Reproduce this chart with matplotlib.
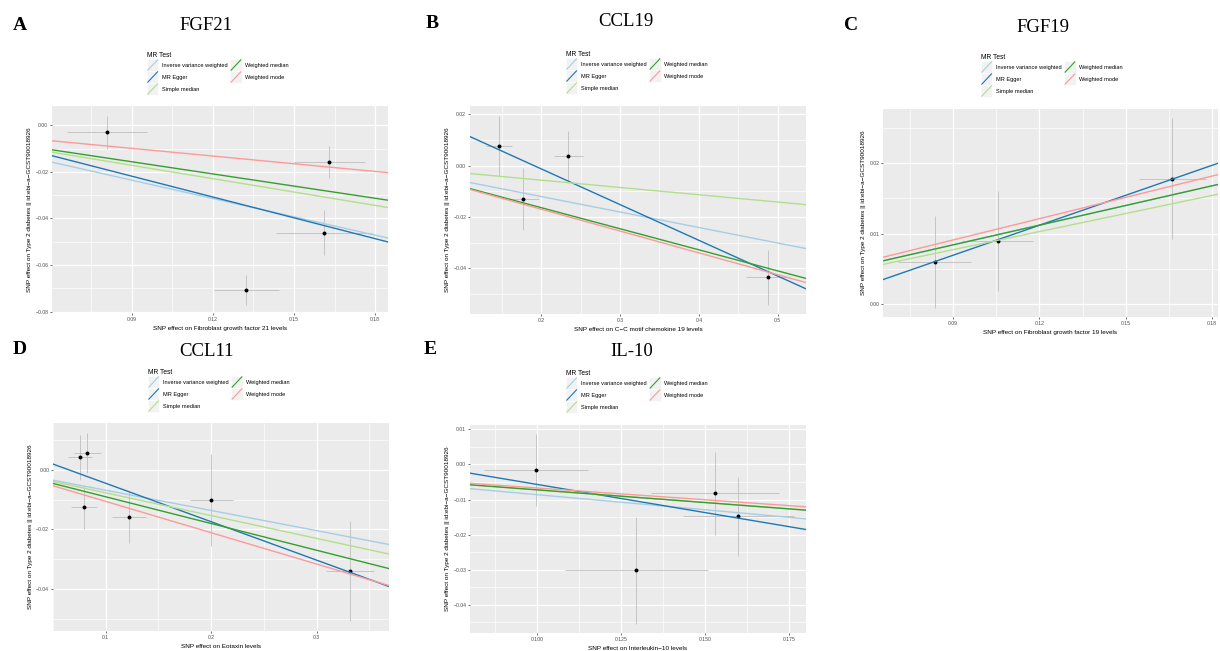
import matplotlib
matplotlib.use("Agg")
import matplotlib.pyplot as plt
from matplotlib.legend_handler import HandlerBase
from matplotlib.patches import Rectangle
from matplotlib.lines import Line2D
from matplotlib.ticker import FixedLocator, MultipleLocator

plt.rcParams['font.family'] = ['Liberation Sans', 'DejaVu Sans']

W, H = 1220, 651

methods = ["Inverse variance weighted", "MR Egger", "Simple median",
           "Weighted median", "Weighted mode"]
method_colors = ["#a6cee3", "#1f78b4", "#b2df8a", "#33a02c", "#fb9a99"]

ylabel = "SNP effect on Type 2 diabetes || id:ebi\u2212a\u2212GCST90018926"

# ---------- Panel A: FGF21 ----------
A_bx = [0.0809, 0.1631, 0.1611, 0.1323]
A_by = [-0.0029, -0.0159, -0.0461, -0.0707]
A_sex = [0.0148, 0.0132, 0.0178, 0.0120]
A_sey = [0.0071, 0.0069, 0.0097, 0.0064]
A_slope = [-0.262, -0.2978, -0.191, -0.174, -0.110]
A_icept = [0.0, 0.00494, 0.0, 0.0, 0.0]
A_xticks = [0.09, 0.12, 0.15, 0.18]
A_xticklabels = ["0.09", "0.12", "0.15", "0.18"]
A_yticks = [0.0, -0.02, -0.04, -0.06, -0.08]
A_yticklabels = ["0.00", "\u22120.02", "\u22120.04", "\u22120.06", "\u22120.08"]

# ---------- Panel B: CCL19 ----------
B_bx = [0.1463, 0.1772, 0.2343, 0.488]
B_by = [0.0078, -0.0130, 0.0037, -0.0435]
B_sex = [0.017, 0.020, 0.0184, 0.028]
B_sey = [0.0117, 0.012, 0.0099, 0.0107]
B_slope = [-0.0603, -0.139, -0.0284, -0.082, -0.085]
B_icept = [0.0, 0.0265, 0.0, 0.0, 0.0]
B_xticks = [0.2, 0.3, 0.4, 0.5]
B_xticklabels = ["0.2", "0.3", "0.4", "0.5"]
B_yticks = [0.02, 0.0, -0.02, -0.04]
B_yticklabels = ["0.02", "0.00", "\u22120.02", "\u22120.04"]

# ---------- Panel C: FGF19 ----------
C_bx = [0.0836, 0.1055, 0.1662]
C_by = [0.00598, 0.0090, 0.0178]
C_sex = [0.0128, 0.0124, 0.0117]
C_sey = [0.0065, 0.0071, 0.0086]
C_slope = [0.0933, 0.1421, 0.0857, 0.0933, 0.101]
C_icept = [0.0, -0.00587, 0.0, 0.0, 0.0]
C_xticks = [0.09, 0.12, 0.15, 0.18]
C_xticklabels = ["0.09", "0.12", "0.15", "0.18"]
C_yticks = [0.0, 0.01, 0.02]
C_yticklabels = ["0.00", "0.01", "0.02"]

# ---------- Panel D: CCL11 ----------
D_bx = [0.0756, 0.0827, 0.0793, 0.1222, 0.2000, 0.3314]
D_by = [0.00427, 0.00585, -0.0126, -0.01574, -0.0101, -0.0341]
D_sex = [0.0116, 0.013, 0.0124, 0.0158, 0.0204, 0.0228]
D_sey = [0.0076, 0.0068, 0.0072, 0.0087, 0.0155, 0.0169]
D_slope = [-0.068, -0.1294, -0.0767, -0.090, -0.1055]
D_icept = [0.0, 0.00849, 0.0, 0.0, 0.0]
D_xticks = [0.1, 0.2, 0.3]
D_xticklabels = ["0.1", "0.2", "0.3"]
D_yticks = [0.0, -0.02, -0.04]
D_yticklabels = ["0.00", "\u22120.02", "\u22120.04"]

# ---------- Panel E: IL-10 ----------
E_bx = [0.0997, 0.1295, 0.153, 0.1599]
E_by = [-0.00161, -0.0301, -0.00817, -0.0148]
E_sex = [0.0154, 0.0213, 0.0191, 0.0165]
E_sey = [0.0103, 0.0152, 0.0118, 0.0112]
E_slope = [-0.086, -0.1605, -0.072, -0.0723, -0.067]
E_icept = [0.0, 0.01037, 0.0, 0.0, 0.0]
E_xticks = [0.100, 0.125, 0.150, 0.175]
E_xticklabels = ["0.100", "0.125", "0.150", "0.175"]
E_yticks = [0.01, 0.0, -0.01, -0.02, -0.03, -0.04]
E_yticklabels = ["0.01", "0.00", "\u22120.01", "\u22120.02", "\u22120.03", "\u22120.04"]

panels = [
    dict(letter="A", title="FGF21", bx=A_bx, by=A_by, sex=A_sex, sey=A_sey,
         slope=A_slope, icept=A_icept, xt=A_xticks, xtl=A_xticklabels,
         yt=A_yticks, ytl=A_yticklabels,
         xlabel="SNP effect on Fibroblast growth factor 21 levels",
         box=(52, 106, 388, 313), xlim=(0.0604, 0.1848), ylim=(-0.0806, 0.0083),
         xminor=0.015, yminor=0.01,
         letter_pos=(20, 25), title_pos=(206, 25), leg_pos=(147, 52)),
    dict(letter="B", title="CCL19", bx=B_bx, by=B_by, sex=B_sex, sey=B_sey,
         slope=B_slope, icept=B_icept, xt=B_xticks, xtl=B_xticklabels,
         yt=B_yticks, ytl=B_yticklabels,
         xlabel="SNP effect on C\u2212C motif chemokine 19 levels",
         box=(470, 106, 806, 314), xlim=(0.1095, 0.536), ylim=(-0.0578, 0.0232),
         xminor=0.05, yminor=0.01,
         letter_pos=(432, 23), title_pos=(626, 22), leg_pos=(566, 51)),
    dict(letter="C", title="FGF19", bx=C_bx, by=C_by, sex=C_sex, sey=C_sey,
         slope=C_slope, icept=C_icept, xt=C_xticks, xtl=C_xticklabels,
         yt=C_yticks, ytl=C_yticklabels,
         xlabel="SNP effect on Fibroblast growth factor 19 levels",
         box=(883, 109, 1218, 317), xlim=(0.0657, 0.182), ylim=(-0.00185, 0.0277),
         xminor=0.015, yminor=0.005,
         letter_pos=(851, 25), title_pos=(1043, 27), leg_pos=(981, 54)),
    dict(letter="D", title="CCL11", bx=D_bx, by=D_by, sex=D_sex, sey=D_sey,
         slope=D_slope, icept=D_icept, xt=D_xticks, xtl=D_xticklabels,
         yt=D_yticks, ytl=D_yticklabels,
         xlabel="SNP effect on Eotaxin levels",
         box=(53, 423, 389, 631), xlim=(0.05, 0.3687), ylim=(-0.0542, 0.01585),
         xminor=0.05, yminor=0.01,
         letter_pos=(20, 349), title_pos=(207, 351), leg_pos=(148, 369)),
    dict(letter="E", title="IL-10", bx=E_bx, by=E_by, sex=E_sex, sey=E_sey,
         slope=E_slope, icept=E_icept, xt=E_xticks, xtl=E_xticklabels,
         yt=E_yticks, ytl=E_yticklabels,
         xlabel="SNP effect on Interleukin\u221210 levels",
         box=(470, 425, 806, 633), xlim=(0.0800, 0.180), ylim=(-0.048, 0.01125),
         xminor=0.0125, yminor=0.005,
         letter_pos=(430, 350), title_pos=(632, 351), leg_pos=(566, 370)),
]


class DiagHandler(HandlerBase):
    def create_artists(self, legend, orig_handle, xdescent, ydescent,
                       width, height, fontsize, trans):
        x0, y0 = -xdescent, -ydescent
        rect = Rectangle((x0, y0), width, height, facecolor="#F2F2F2",
                         edgecolor="white", linewidth=0.5, transform=trans)
        line = Line2D([x0 + 0.6, x0 + width - 0.6], [y0 + 0.6, y0 + height - 0.6],
                      color=orig_handle.get_color(), linewidth=0.8, transform=trans)
        return [rect, line]


fig = plt.figure(figsize=(W / 100, H / 100), dpi=100)
fig.patch.set_facecolor("white")

for p in panels:
    l, t, r, b = p["box"]
    ax = fig.add_axes([l / W, 1 - b / H, (r - l) / W, (b - t) / H])
    ax.set_facecolor("#EBEBEB")
    for s in ax.spines.values():
        s.set_visible(False)
    ax.set_xlim(*p["xlim"])
    ax.set_ylim(*p["ylim"])
    ax.xaxis.set_major_locator(FixedLocator(p["xt"]))
    ax.set_xticklabels(p["xtl"])
    ax.yaxis.set_major_locator(FixedLocator(p["yt"]))
    ax.set_yticklabels(p["ytl"])
    ax.xaxis.set_minor_locator(MultipleLocator(p["xminor"]))
    ax.yaxis.set_minor_locator(MultipleLocator(p["yminor"]))
    ax.grid(which="major", color="white", linewidth=0.9)
    ax.grid(which="minor", color="white", linewidth=0.45)
    ax.set_axisbelow(True)
    ax.tick_params(which="major", length=1.5, width=0.5, color="#333333",
                   labelsize=3.7, labelcolor="#4D4D4D", pad=1.2)
    ax.tick_params(which="minor", length=0)
    ax.set_xlabel(p["xlabel"], fontsize=4.6, labelpad=3.0)
    ax.set_ylabel(ylabel, fontsize=4.6, labelpad=2)

    ax.errorbar(p["bx"], p["by"], xerr=p["sex"], yerr=p["sey"], fmt="none",
                ecolor="#BEBEBE", elinewidth=0.6, capsize=0, zorder=2)
    ax.scatter(p["bx"], p["by"], s=8, color="black", zorder=3, linewidths=0)
    for s_, i_, c in zip(p["slope"], p["icept"], method_colors):
        ax.axline((0, i_), slope=s_, color=c, linewidth=1.0, zorder=4)

    handles = [Line2D([], [], color=c) for c in method_colors]
    lx, ly = p["leg_pos"]
    fig.legend(handles, methods, loc="upper left",
               bbox_to_anchor=(lx / W, 1 - ly / H),
               bbox_transform=fig.transFigure, ncol=2, frameon=False,
               fontsize=4.1, title="MR Test", title_fontsize=4.8,
               alignment="left", borderpad=0, borderaxespad=0,
               labelspacing=0.0, handlelength=2.0, handleheight=2.86,
               handletextpad=0.6, columnspacing=0.5,
               handler_map={Line2D: DiagHandler()})

    fig.text(p["letter_pos"][0] / W, 1 - p["letter_pos"][1] / H, p["letter"],
             fontsize=14, fontweight="bold", family="Liberation Serif",
             ha="center", va="center")
    fig.text(p["title_pos"][0] / W, 1 - p["title_pos"][1] / H, p["title"],
             fontsize=13.5, family="Liberation Serif", ha="center", va="center")

fig.savefig("out.png", dpi=100)
